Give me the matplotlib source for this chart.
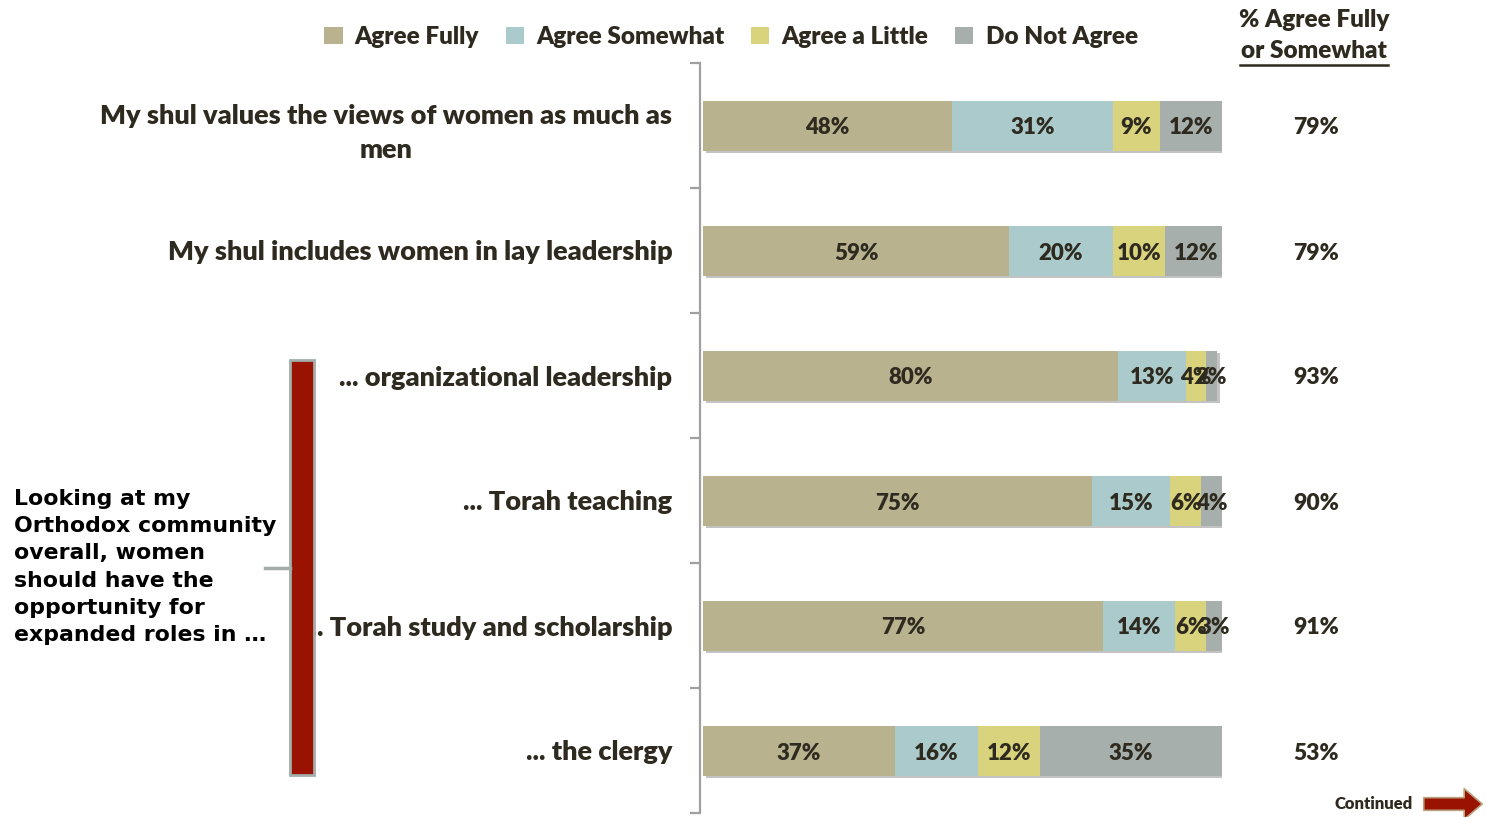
import matplotlib.pyplot as plt
import matplotlib.patches as mpatches
import matplotlib.patheffects as pe
from matplotlib.transforms import blended_transform_factory
import numpy as np

# statements and response shares (%)
statements = ["My shul values the views of women as much as\nmen",
              "My shul includes women in lay leadership",
              "... organizational leadership",
              "... Torah teaching",
              "... Torah study and scholarship",
              "... the clergy"]
agree_fully = [48, 59, 80, 75, 77, 37]
agree_somewhat = [31, 20, 13, 15, 14, 16]
agree_little = [9, 10, 4, 6, 6, 12]
not_agree = [12, 12, 2, 4, 3, 35]
fully_or_somewhat = [79, 79, 93, 90, 91, 53]

series_names = ["Agree Fully", "Agree Somewhat", "Agree a Little", "Do Not Agree"]
colors = ["#B8B28E", "#AACACB", "#D9D37E", "#A6AFAB"]
text_color = "#2E2A1F"
W = 'heavy'

plt.rcParams['font.family'] = ['Lato', 'DejaVu Sans']

fig = plt.figure(figsize=(14.86, 8.17), dpi=100)
ax = fig.add_axes([703 / 1486, 4 / 817, 519 / 1486, 750 / 817])

y = np.arange(len(statements))
left = np.zeros(len(statements))
shadow = [pe.SimplePatchShadow(offset=(2, -2), shadow_rgbFace='#888888', alpha=0.5), pe.Normal()]
handles = []
for name, vals, col in zip(series_names,
                           [agree_fully, agree_somewhat, agree_little, not_agree],
                           colors):
    bars = ax.barh(y, vals, left=left, height=0.4, color=col, label=name)
    for b in bars:
        b.set_path_effects(shadow)
    for yi, l, v in zip(y, left, vals):
        ax.text(l + v / 2, yi + 0.02, f"{v}%", ha='center', va='center',
                fontsize=16, fontweight=W, color=text_color)
    handles.append(bars)
    left += np.array(vals)

ax.set_xlim(0, 100)
ax.set_ylim(5.5, -0.5)
ax.set_xticks([])
for s in ['top', 'right', 'bottom']:
    ax.spines[s].set_visible(False)
ax.spines['left'].set_position(('outward', 2))
ax.spines['left'].set_color('#A0A0A0')
ax.spines['left'].set_linewidth(1.6)

ax.set_yticks(y)
ax.set_yticklabels(statements, fontsize=19.5, fontweight=W, color=text_color)
for lab in ax.get_yticklabels():
    lab.set_multialignment('center')
    lab.set_linespacing(1.5)
ax.tick_params(axis='y', which='major', length=0, pad=20)
ax.set_yticks(np.arange(-0.5, 6, 1), minor=True)
ax.tick_params(axis='y', which='minor', length=7, width=1.6, color='#A0A0A0')

# right-hand summary column
tr = blended_transform_factory(fig.transFigure, ax.transData)
for yi, v in zip(y, fully_or_somewhat):
    ax.text(1316 / 1486, yi + 0.02, f"{v}%", transform=tr, ha='center', va='center',
            fontsize=16.5, fontweight=W, color=text_color)
fig.text(1314 / 1486, 1 - 20 / 817, "% Agree Fully", ha='center', va='center',
         fontsize=17.5, fontweight=W, color=text_color)
fig.text(1314 / 1486, 1 - 51 / 817, "or Somewhat", ha='center', va='center',
         fontsize=17.5, fontweight=W, color=text_color)
fig.add_artist(plt.Line2D([1240 / 1486, 1388 / 1486], [1 - 65 / 817, 1 - 65 / 817],
                          color=text_color, lw=1.8, transform=fig.transFigure))

# legend
fig.legend(handles=handles, labels=series_names, loc='center', ncol=4,
           bbox_to_anchor=(731 / 1486, 1 - 37 / 817), frameon=False,
           handlelength=0.75, handleheight=0.75, handletextpad=0.5,
           columnspacing=1.1, prop={'weight': W, 'size': 17.5})
for t in fig.legends[0].get_texts():
    t.set_color(text_color)
for h in fig.legends[0].legend_handles:
    h.set_path_effects([])

# bracket grouping the community items
fig.text(14 / 1486, 1 - 567 / 817,
         "Looking at my\nOrthodox community\noverall, women\nshould have the\nopportunity for\nexpanded roles in \u2026",
         ha='left', va='center', fontsize=15.8, fontweight='bold', color='black',
         family='DejaVu Sans', linespacing=1.45)
fig.add_artist(mpatches.Rectangle((290 / 1486, 1 - 775 / 817), 24 / 1486, 415 / 817,
                                  facecolor='#9A1200', edgecolor='#A3ADAB', lw=2,
                                  transform=fig.transFigure))
fig.add_artist(plt.Line2D([265 / 1486, 290 / 1486], [1 - 568 / 817, 1 - 568 / 817],
                          color='#A3ADAB', lw=2.5, transform=fig.transFigure))

# continued marker
fig.text(1413 / 1486, 1 - 804 / 817, "Continued", ha='right', va='center',
         fontsize=12, fontweight=W, color=text_color)
fig.add_artist(mpatches.FancyArrowPatch((1421 / 1486, 1 - 804 / 817), (1485 / 1486, 1 - 804 / 817),
                                        arrowstyle='simple,head_width=1.7,head_length=1.0,tail_width=0.7',
                                        mutation_scale=13, facecolor='#9A1200', edgecolor='#B8A27E',
                                        lw=1.2, transform=fig.transFigure))

fig.savefig("out.png", dpi=100)
